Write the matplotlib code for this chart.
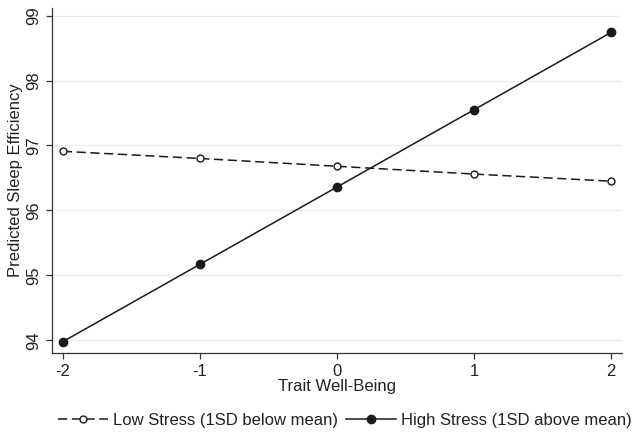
import matplotlib
matplotlib.use("Agg")
import matplotlib.pyplot as plt

plt.rcParams['font.family'] = ['Liberation Sans', 'DejaVu Sans']

x = [-2, -1, 0, 1, 2]
low_stress = [96.91, 96.80, 96.68, 96.56, 96.45]
high_stress = [93.98, 95.17, 96.36, 97.55, 98.74]
xticks = [-2, -1, 0, 1, 2]
yticks = [94, 95, 96, 97, 98, 99]

fig = plt.figure(figsize=(6.34, 4.34), dpi=100)
ax = fig.add_axes([0.082, 0.186, 0.899, 0.796])

ax.plot(x, low_stress, linestyle=(0, (6, 3)), color='#1a1a1a', lw=1.1,
        marker='o', markersize=5, markerfacecolor='white', markeredgecolor='#1a1a1a',
        markeredgewidth=1.0, label='Low Stress (1SD below mean)')
ax.plot(x, high_stress, linestyle='-', color='#1a1a1a', lw=1.1,
        marker='o', markersize=6, markerfacecolor='#1a1a1a', markeredgecolor='#1a1a1a',
        label='High Stress (1SD above mean)')

ax.set_xlim(-2.08, 2.08)
ax.set_ylim(93.8, 99.12)
ax.set_xticks(xticks)
ax.set_xticklabels(['-2', '-1', '0', '1', '2'])
ax.set_yticks(yticks)
ax.set_yticklabels([str(t) for t in yticks], rotation=90, va='center')
ax.grid(axis='y', color='#ececec', lw=0.8)
ax.set_axisbelow(True)
for s in ['top', 'right']:
    ax.spines[s].set_visible(False)
for s in ['left', 'bottom']:
    ax.spines[s].set_color('#333333')
    ax.spines[s].set_linewidth(0.9)
ax.tick_params(direction='out', length=4, width=0.9, colors='#333333', labelsize=12,
               labelcolor='#222222', pad=4)
ax.set_xlabel('Trait Well-Being', fontsize=12, labelpad=0, color='#222222')
ax.set_ylabel('Predicted Sleep Efficiency', fontsize=12, labelpad=2, color='#222222')

fig.legend(loc='center', bbox_to_anchor=(0.544, 0.032), ncol=2, frameon=False,
           fontsize=12, handlelength=3.0, columnspacing=0.5, handletextpad=0.3,
           borderpad=0, borderaxespad=0)
for t in fig.legends[0].get_texts():
    t.set_color('#222222')

fig.savefig('out.png', dpi=100)
